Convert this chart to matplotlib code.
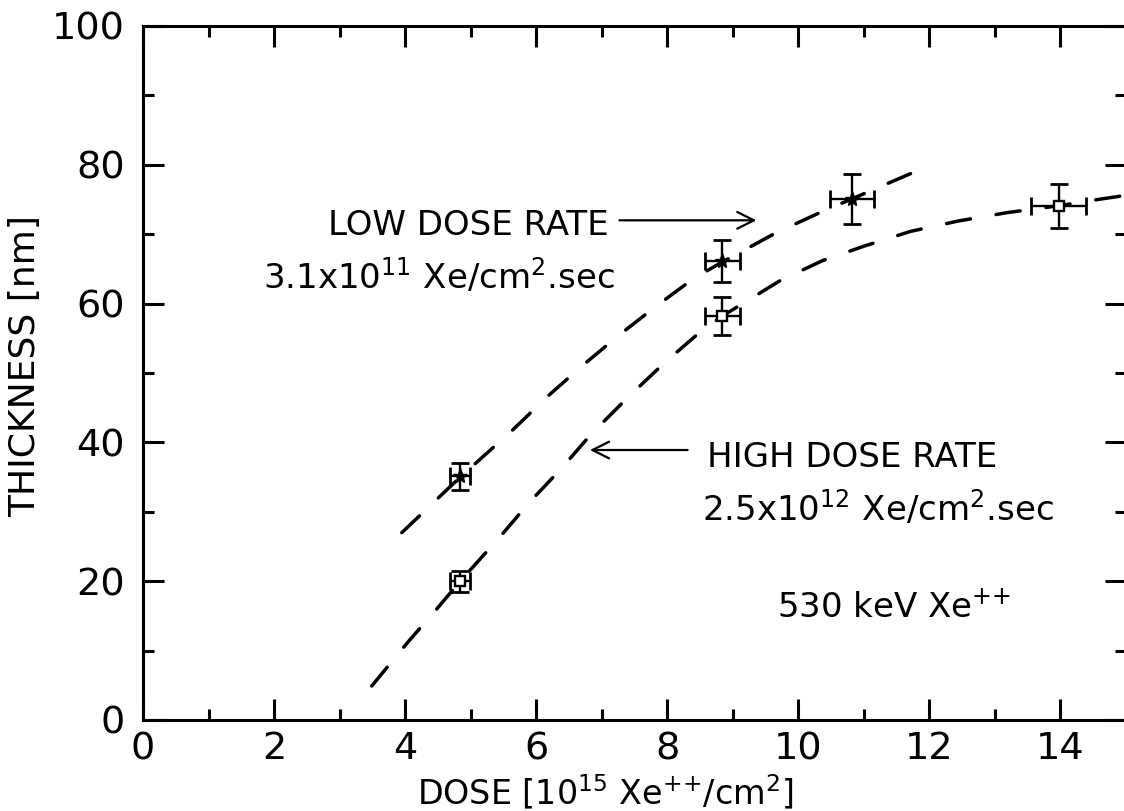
import numpy as np
import matplotlib
matplotlib.use("Agg")
import matplotlib.pyplot as plt
from matplotlib.ticker import MultipleLocator

# measured points, dose in 1e15 Xe++/cm2, thickness in nm
low_dose = [4.84, 8.84, 10.82]
low_thick = [35.1, 66.1, 75.1]
low_xerr = [0.15, 0.27, 0.33]
low_yerr = [2.0, 3.0, 3.6]

high_dose = [4.84, 8.84, 13.97]
high_thick = [20.0, 58.2, 74.1]
high_xerr = [0.15, 0.27, 0.42]
high_yerr = [1.5, 2.75, 3.2]

# hand drawn trend curves through the data
low_curve_x = [3.95, 4.84, 5.62, 6.17, 6.71, 7.27, 7.84, 8.4, 8.84, 9.66, 10.28, 10.82, 11.73]
low_curve_y = [27.0, 35.0, 41.6, 46.6, 51.1, 55.5, 59.7, 63.6, 66.0, 70.2, 72.9, 75.1, 78.8]

high_curve_x = [3.49, 4.04, 4.51, 4.84, 5.43, 5.89, 6.37, 6.84, 7.4, 7.95, 8.5, 8.84,
                9.72, 10.37, 11.01, 11.71, 12.44, 13.18, 13.97, 14.64, 15.0]
high_curve_y = [4.9, 11.2, 16.3, 20.0, 26.2, 31.3, 36.1, 41.2, 46.5, 51.4, 55.9, 58.2,
                63.3, 66.2, 68.3, 70.4, 71.9, 73.1, 74.1, 75.1, 75.6]

fig = plt.figure(figsize=(11.24, 8.11), dpi=100)
ax = fig.add_axes([143 / 1124, 91 / 811, 983 / 1124, 694 / 811])

dash = dict(color="black", lw=2.5, dashes=(7.0, 7.5), solid_capstyle="round",
            dash_capstyle="round")
ax.plot(low_curve_x, low_curve_y, **dash)
ax.plot(high_curve_x, high_curve_y, **dash)

ebar = dict(fmt="none", ecolor="black", elinewidth=1.7, capsize=6.5, capthick=2.0)
ax.errorbar(low_dose, low_thick, xerr=low_xerr, yerr=low_yerr, **ebar)
ax.errorbar(high_dose, high_thick, xerr=high_xerr, yerr=high_yerr, **ebar)
ax.plot(low_dose, low_thick, ls="none", marker="*", ms=11, color="black")
ax.plot(high_dose, high_thick, ls="none", marker="s", ms=6.5, mfc="white",
        mec="black", mew=1.7)

ax.set_xlim(0, 15)
ax.set_ylim(0, 100)
ax.xaxis.set_major_locator(MultipleLocator(2))
ax.xaxis.set_minor_locator(MultipleLocator(1))
ax.yaxis.set_major_locator(MultipleLocator(20))
ax.yaxis.set_minor_locator(MultipleLocator(10))
ax.tick_params(which="both", direction="in", top=True, right=True, width=2.2,
               labelsize=27.5)
ax.tick_params(which="major", length=15)
ax.tick_params(which="minor", length=8)
ax.tick_params(axis="x", pad=8)
ax.tick_params(axis="y", pad=13)
for sp in ax.spines.values():
    sp.set_linewidth(2.2)

# braces keep mathtext from spacing the ++ as a binary operator
ax.set_xlabel(r"DOSE [10$^{15}$ Xe$^{+{+}}$/cm$^2$]", fontsize=24)
ax.xaxis.set_label_coords(0.47, -0.075)
ax.xaxis.label.set_va("top")
ax.set_ylabel("THICKNESS [nm]", fontsize=26)
ax.yaxis.set_label_coords(-0.103, 0.51)

txt = dict(fontsize=24.5, color="black")
ax.text(2.82, 69.9, "LOW DOSE RATE", **txt)
ax.text(1.83, 62.2, r"3.1x10$^{11}$ Xe/cm$^2$.sec", **txt)
ax.annotate("", xy=(9.36, 72.0), xytext=(7.27, 72.0),
            arrowprops=dict(arrowstyle="->", lw=1.6, color="black",
                            mutation_scale=30, shrinkA=0, shrinkB=0))

ax.text(8.6, 36.5, "HIGH DOSE RATE", **txt)
ax.text(8.53, 28.8, r"2.5x10$^{12}$ Xe/cm$^2$.sec", **txt)
ax.annotate("", xy=(6.82, 38.9), xytext=(8.31, 38.9),
            arrowprops=dict(arrowstyle="->", lw=1.6, color="black",
                            mutation_scale=30, shrinkA=0, shrinkB=0))

ax.text(9.67, 14.7, r"530 keV Xe$^{+{+}}$", **txt)

fig.savefig("out.png", dpi=100)
